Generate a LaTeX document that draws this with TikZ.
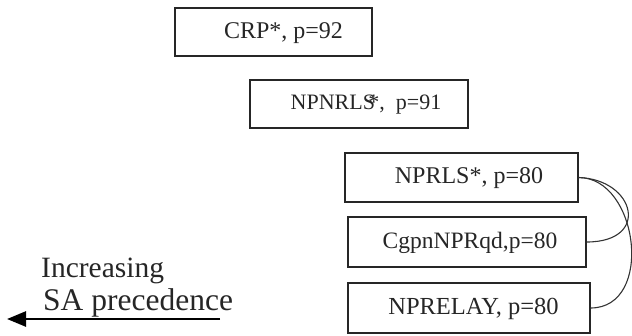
\documentclass[tikz,border=0pt]{standalone}
\usepackage{fontspec}
\setmainfont{Liberation Serif}
\usetikzlibrary{arrows.meta}
\begin{document}
\begin{tikzpicture}[x=1pt,y=-1pt,
  agent/.style={draw=black!85,line width=1.2pt,rectangle,inner sep=0pt},
  agentlabel/.style={inner sep=0pt,text=black!85},
  link/.style={draw=black!80,line width=1.1pt},
  caption/.style={inner sep=0pt,anchor=base west,text=black!85}]
\useasboundingbox (0,0) rectangle (632,335);

% agent boxes
\node[agent,minimum width=197pt,minimum height=48pt] (crp) at (273.5,32) {};
\node[agent,minimum width=218pt,minimum height=48pt] (npnrls) at (359,104) {};
\node[agent,minimum width=233pt,minimum height=49pt] (nprls) at (461.5,177.5) {};
\node[agent,minimum width=238pt,minimum height=50pt] (cgpn) at (467,242) {};
\node[agent,minimum width=242pt,minimum height=50pt] (relay) at (469,308) {};

% box texts
\node[agentlabel,font=\fontsize{24}{26}\selectfont] (crp-t) at (283.5,33.5) {CRP*, p=92};
\node[agentlabel,font=\fontsize{22}{24}\selectfont] (npnrls-t) at (366,104.5) {NPNRLS\kern-0.3em*,\ \ p=91};
\node[agentlabel,font=\fontsize{24}{27}\selectfont] (nprls-t) at (469,178.5) {NPRLS*, p=80};
\node[agentlabel,font=\fontsize{23.5}{26}\selectfont] (cgpn-t) at (470,243) {CgpnNPRqd,p=80};
\node[agentlabel,font=\fontsize{24.5}{26}\selectfont] (relay-t) at (473.5,309) {NPRELAY, p=80};

% equal-precedence links
\draw[link] (nprls.east) .. controls +(57,2) and +(64,0) .. (cgpn.east);
\draw[link] (nprls.east) .. controls +(60,0) and +(64,0) .. (relay.east);

% precedence direction
\node[caption,font=\fontsize{29.5}{31}\selectfont] (inc) at (41,277) {Increasing};
\node[caption,font=\fontsize{31.5}{33}\selectfont] (sap) at (43,310) {SA precedence};
\coordinate (arr-start) at (220,319);
\coordinate (arr-end) at (7,319);
\draw[line width=2.6pt,-{Triangle[length=19pt,width=15pt]}] (arr-start) -- (arr-end);
\end{tikzpicture}
\end{document}
